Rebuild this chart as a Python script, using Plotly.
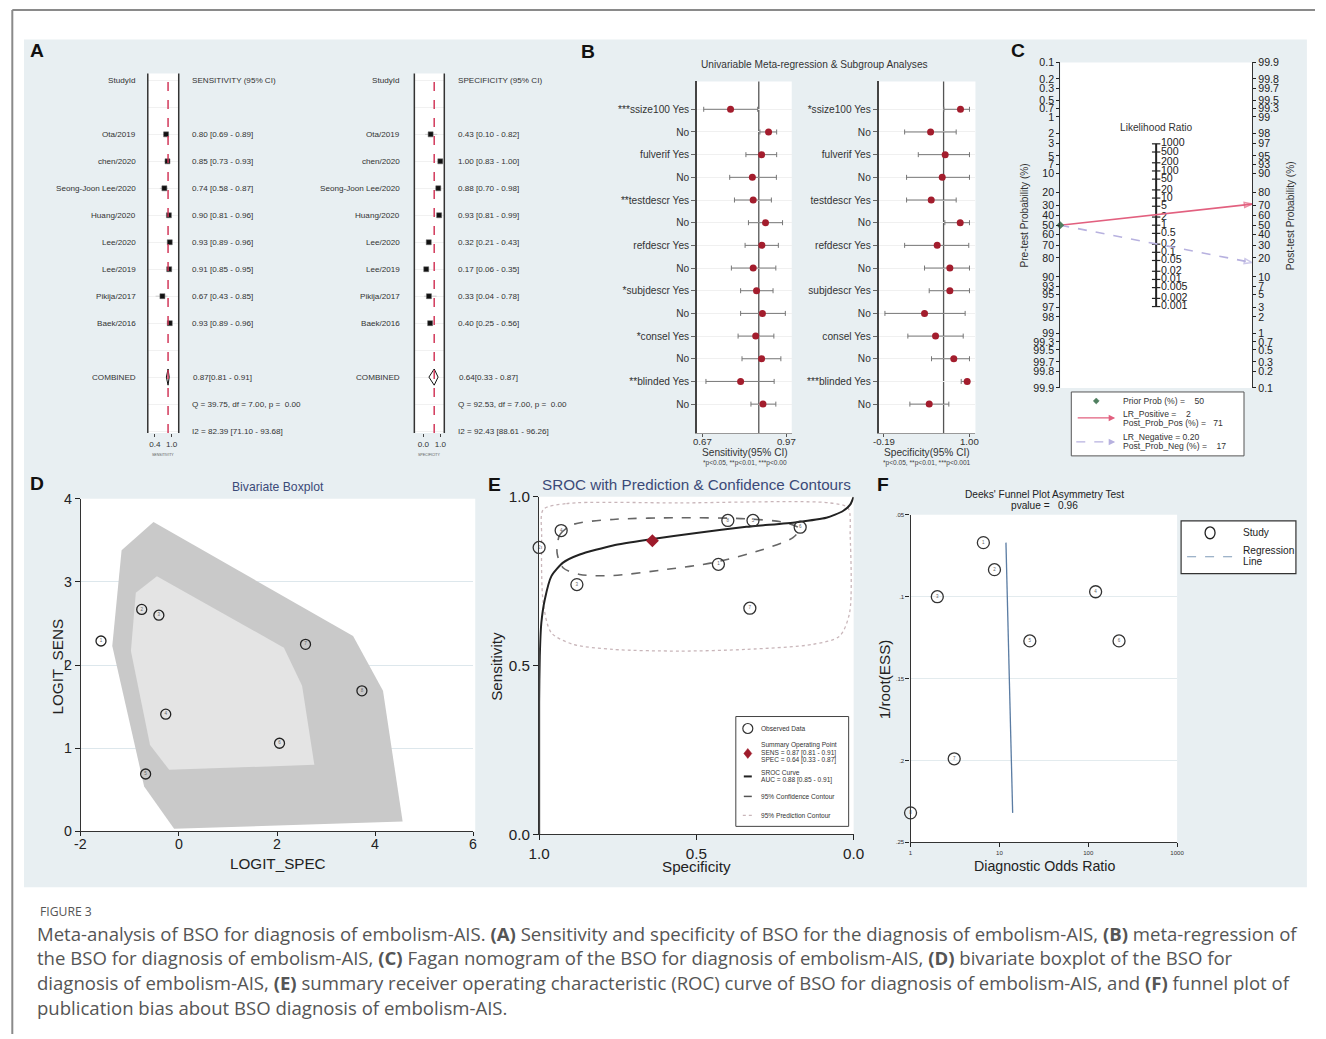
import math
import plotly.graph_objects as go

W, H = 1326, 1039
# the photographed page is shown slightly reduced and inset; place items so they land
# at the reference pixel positions
S, OX, OY = 0.985, 10.0, 8.5
FS = 1 / S
def PX(x): return (x - OX) / S / W
def PY(y): return 1 - (y - OY) / S / H
def fs(v): return v * FS

FONT = "Liberation Sans, Arial, Helvetica, sans-serif"
NB = "\u00a0"

# ================= DATA =================
# Panel A: forest plots
studies = ["Ota/2019", "chen/2020", "Seong-Joon Lee/2020", "Huang/2020",
           "Lee/2020", "Lee/2019", "Pikija/2017", "Baek/2016"]
sens = [0.80, 0.85, 0.74, 0.90, 0.93, 0.91, 0.67, 0.93]
sens_lo = [0.69, 0.73, 0.58, 0.81, 0.89, 0.85, 0.43, 0.89]
sens_hi = [0.89, 0.93, 0.87, 0.96, 0.96, 0.95, 0.85, 0.96]
spec = [0.43, 1.00, 0.88, 0.93, 0.32, 0.17, 0.33, 0.40]
spec_lo = [0.10, 0.83, 0.70, 0.81, 0.21, 0.06, 0.04, 0.25]
spec_hi = [0.82, 1.00, 0.98, 0.99, 0.43, 0.35, 0.78, 0.56]
pooled_sens = [0.87, 0.81, 0.91]
pooled_spec = [0.64, 0.33, 0.87]
sens_stats = ["Q = 39.75, df = 7.00, p =  0.00", "I2 = 82.39 [71.10 - 93.68]"]
spec_stats = ["Q = 92.53, df = 7.00, p =  0.00", "I2 = 92.43 [88.61 - 96.26]"]

# Panel B: meta-regression
mr_sens_labels = ["***ssize100 Yes", "No", "fulverif Yes", "No", "**testdescr Yes", "No",
                  "refdescr Yes", "No", "*subjdescr Yes", "No", "*consel Yes", "No",
                  "**blinded Yes", "No"]
mr_sens = [0.769, 0.905, 0.880, 0.847, 0.850, 0.894, 0.881, 0.850, 0.862, 0.883, 0.859, 0.880, 0.805, 0.885]
mr_sens_lo = [0.673, 0.874, 0.824, 0.766, 0.783, 0.833, 0.821, 0.772, 0.805, 0.805, 0.796, 0.810, 0.681, 0.842]
mr_sens_hi = [0.866, 0.934, 0.934, 0.933, 0.915, 0.955, 0.940, 0.931, 0.921, 0.965, 0.924, 0.949, 0.925, 0.931]
mr_spec_labels = ["*ssize100 Yes", "No", "fulverif Yes", "No", "testdescr Yes", "No",
                  "refdescr Yes", "No", "subjdescr Yes", "No", "consel Yes", "No",
                  "***blinded Yes", "No"]
mr_spec = [0.875, 0.459, 0.662, 0.621, 0.468, 0.871, 0.551, 0.727, 0.727, 0.375, 0.528, 0.782, 0.968, 0.440]
mr_spec_lo = [0.643, 0.098, 0.288, 0.125, 0.125, 0.657, 0.098, 0.375, 0.440, -0.176, 0.143, 0.472, 0.885, 0.171]
mr_spec_hi = [1.0, 0.815, 1.0, 1.0, 0.815, 1.0, 0.99, 1.0, 1.0, 0.94, 0.913, 1.0, 1.0, 0.713]

# Panel C: Fagan nomogram
prob_ticks = ["0.1", "0.2", "0.3", "0.5", "0.7", "1", "2", "3", "5", "7", "10", "20", "30", "40",
              "50", "60", "70", "80", "90", "93", "95", "97", "98", "99", "99.3", "99.5",
              "99.7", "99.8", "99.9"]
lr_ticks = ["1000", "500", "200", "100", "50", "20", "10", "5", "2", "1", "0.5", "0.2", "0.1",
            "0.05", "0.02", "0.01", "0.005", "0.002", "0.001"]
prior_prob = 50
lr_pos, post_pos = 2, 71
lr_neg, post_neg = 0.20, 17

# Panel D: bivariate boxplot
d_ticks_x = [-2, 0, 2, 4, 6]
d_spec = [-1.59, -0.76, -0.41, -0.27, -0.68, 2.05, 2.58, 3.73]
d_sens = [2.29, 2.67, 2.60, 1.41, 0.69, 1.06, 2.25, 1.69]
d_outer_x = [-1.17, -0.52, 3.55, 4.16, 4.56, -0.10, -0.71, -1.36]
d_outer_y = [3.38, 3.72, 2.35, 1.69, 0.12, 0.03, 0.54, 2.23]
d_inner_x = [-0.88, -0.45, 2.14, 2.51, 2.76, -0.20, -0.59, -0.98]
d_inner_y = [2.87, 3.07, 2.21, 1.75, 0.80, 0.74, 1.04, 2.17]

# Panel E: SROC
sroc_spec = [1.0, 1.0, 0.998, 0.993, 0.982, 0.961, 0.924, 0.871, 0.765, 0.645, 0.5, 0.341, 0.182, 0.087, 0.034, 0.011, 0.0]
sroc_sens = [0.0, 0.39, 0.528, 0.627, 0.696, 0.765, 0.805, 0.829, 0.856, 0.874, 0.893, 0.911, 0.925, 0.938, 0.958, 0.977, 1.0]
conf_spec = [0.943, 0.934, 0.892, 0.765, 0.553, 0.341, 0.214, 0.172, 0.193, 0.288, 0.447, 0.595, 0.765, 0.871, 0.924, 0.943]
conf_sens = [0.834, 0.888, 0.918, 0.933, 0.938, 0.935, 0.923, 0.905, 0.879, 0.844, 0.805, 0.785, 0.767, 0.770, 0.790, 0.834]
pred_spec = [0.987, 0.913, 0.553, 0.076, 0.018, 0.011, 0.013, 0.045, 0.129, 0.341, 0.553, 0.765, 0.892, 0.961, 0.987, 0.992, 0.987]
pred_sens = [0.962, 0.980, 0.982, 0.982, 0.967, 0.884, 0.656, 0.587, 0.563, 0.548, 0.543, 0.548, 0.563, 0.597, 0.686, 0.884, 0.962]

# Panel F: Deeks funnel
f_dor = [6.6, 8.8, 2.0, 121, 22, 222, 3.1, 1.0]
f_iress = [0.067, 0.0835, 0.100, 0.097, 0.127, 0.127, 0.199, 0.232]
f_reg_dor = [11.85, 14.1]
f_reg_iress = [0.067, 0.232]

# ================= HELPERS =================
traces, shapes, annotations = [], [], []

def T(**kw):
    traces.append(go.Scatter(showlegend=False, hoverinfo="skip", **kw))

def ann(text, x, y, size=10, color="#222", xanchor="center", yanchor="middle",
        xref="paper", yref="paper", angle=0, family=FONT):
    annotations.append(dict(text=text, x=x, y=y, xref=xref, yref=yref, showarrow=False,
                            xanchor=xanchor, yanchor=yanchor, textangle=angle,
                            font=dict(size=fs(size), color=color, family=family)))

def rect(x0, y0, x1, y1, fill, line=None, lw=0, layer="below"):
    shapes.append(dict(type="rect", xref="paper", yref="paper", x0=PX(x0), x1=PX(x1),
                       y0=PY(y1), y1=PY(y0), fillcolor=fill, layer=layer,
                       line=dict(color=line if line else fill, width=lw)))

def pline(x0, y0, x1, y1, color, width=1, dash="solid", layer="above"):
    shapes.append(dict(type="line", xref="paper", yref="paper", x0=PX(x0), x1=PX(x1),
                       y0=PY(y0), y1=PY(y1), layer=layer,
                       line=dict(color=color, width=width, dash=dash)))

def logit_pct(p):  # Fagan probability scale
    q = p / 100.0
    return math.log(q / (1 - q))

# ================= BACKGROUND =================
shapes.append(dict(type="line", xref="paper", yref="paper", x0=0.001, x1=1, y0=0.999, y1=0.999,
                   layer="below", line=dict(color="#8a8a8a", width=2)))
shapes.append(dict(type="line", xref="paper", yref="paper", x0=0.001, x1=0.001, y0=0.999,
                   y1=PY(1035), layer="below", line=dict(color="#8a8a8a", width=2)))
rect(23, 39, 1308, 888, "#e8eff2")
for (x0, y0, x1, y1) in [(147, 73, 178, 433), (414, 73, 444, 433), (697, 81, 792, 433),
                         (879, 81, 976, 433), (1061, 62, 1253, 388), (80, 499, 475, 832),
                         (539, 497, 854, 835), (911, 515, 1178, 843)]:
    rect(x0, y0, x1, y1, "white")

layout = dict(width=W, height=H, margin=dict(l=0, r=0, t=0, b=0), paper_bgcolor="white",
              plot_bgcolor="rgba(0,0,0,0)", showlegend=False,
              font=dict(family=FONT, color="#222"))

def base_axis(**kw):
    d = dict(showgrid=False, zeroline=False, showline=False, ticks="", showticklabels=False,
             fixedrange=True, autorange=False)
    d.update(kw)
    return d

# ================= PANEL A =================
rows = list(range(len(studies)))
COMB, QROW, IROW, HEAD = 9, 10, 11, -2

def forest(xid, xdom, xr, est, lo, hi, pooled, tickv, tickt, name_x, val_x,
           header, axis_label, stats):
    layout["xaxis" + xid] = base_axis(domain=[PX(xdom[0]), PX(xdom[1])], range=xr,
                                      anchor="y" + xid, tickvals=tickv, ticktext=tickt,
                                      ticks="outside", ticklen=3, tickcolor="#444",
                                      showticklabels=True, tickfont=dict(size=fs(8), color="#333"))
    layout["yaxis" + xid] = base_axis(domain=[PY(433), PY(73)], range=[11.07, -2.26],
                                      anchor="x" + xid, tickvals=list(range(-2, 12)),
                                      showgrid=True, gridcolor="#f1f1f1")
    T(x=est, y=rows, xaxis="x" + xid, yaxis="y" + xid, mode="markers",
      marker=dict(symbol="square", size=5, color="#111", line=dict(color="#666", width=0.5)),
      error_x=dict(type="data", symmetric=False,
                   array=[h - e for h, e in zip(hi, est)],
                   arrayminus=[e - l for e, l in zip(est, lo)],
                   color="#cdcdcd", thickness=1, width=0))
    e, l, h = pooled
    T(x=[l, e, h, e, l], y=[COMB, COMB - 0.3, COMB, COMB + 0.3, COMB],
      xaxis="x" + xid, yaxis="y" + xid, mode="lines", fill="toself", fillcolor="white",
      line=dict(color="#111", width=1))
    shapes.append(dict(type="line", xref="x" + xid, yref="paper", x0=e, x1=e,
                       y0=PY(433), y1=PY(73), layer="above",
                       line=dict(color="#d2385a", width=1.5, dash="dash")))
    pline(xdom[0], 73, xdom[0], 433, "#333", 1.5)
    pline(xdom[1], 73, xdom[1], 433, "#333", 1.5)
    yr = "y" + xid
    ann("StudyId", PX(name_x), HEAD, 8, "#333", xanchor="right", yref=yr)
    ann(header, PX(val_x), HEAD, 8, "#333", xanchor="left", yref=yr)
    for i, s in enumerate(studies):
        ann(s, PX(name_x), i, 8, "#333", xanchor="right", yref=yr)
        ann("%.2f [%.2f - %.2f]" % (est[i], lo[i], hi[i]), PX(val_x), i, 8, "#333",
            xanchor="left", yref=yr)
    ann("COMBINED", PX(name_x), COMB, 8, "#333", xanchor="right", yref=yr)
    ann("%.2f[%.2f - %.2f]" % (e, l, h), PX(val_x + 1), COMB, 8, "#333", xanchor="left", yref=yr)
    ann(stats[0].replace("  ", NB + NB), PX(val_x), QROW, 8, "#333", xanchor="left", yref=yr)
    ann(stats[1], PX(val_x), IROW, 8, "#333", xanchor="left", yref=yr)
    ann(axis_label, PX((xdom[0] + xdom[1]) / 2), PY(455), 3.5, "#555")

forest("", (147, 178), [0.153, 1.247], sens, sens_lo, sens_hi, pooled_sens,
       [0.4, 1.0], ["0.4", "1.0"], 137, 189, "SENSITIVITY (95% CI)", "SENSITIVITY", sens_stats)
forest("2", (414, 444), [-0.53, 1.235], spec, spec_lo, spec_hi, pooled_spec,
       [0.0, 1.0], ["0.0", "1.0"], 402, 456, "SPECIFICITY (95% CI)", "SPECIFICITY", spec_stats)
ann("<b>A</b>", PX(36), PY(50), 19, "#111")

# ================= PANEL B =================
mrows = list(range(len(mr_sens)))

def mreg(xid, xdom, xr, tickv, tickt, labels, est, lo, hi, ref, xtitle, foot, tx):
    layout["xaxis" + xid] = base_axis(domain=[PX(xdom[0]), PX(xdom[1])], range=xr,
                                      anchor="y" + xid, tickvals=tickv,
                                      ticks="outside", ticklen=3, tickcolor="#555",
                                      showline=True, linecolor="#999", linewidth=1)
    layout["yaxis" + xid] = base_axis(domain=[PY(433), PY(81)], range=[14.27, -1.23],
                                      anchor="x" + xid, tickvals=mrows, ticktext=labels,
                                      ticks="outside", ticklen=4, tickcolor="#666",
                                      showline=True, linecolor="#444", linewidth=1.5,
                                      showgrid=True, gridcolor="#f0f0f0",
                                      showticklabels=True, tickfont=dict(size=fs(10), color="#333"))
    shapes.append(dict(type="line", xref="x" + xid, yref="paper", x0=ref, x1=ref,
                       y0=PY(433), y1=PY(81), layer="below",
                       line=dict(color="#555", width=1.3)))
    T(x=est, y=mrows, xaxis="x" + xid, yaxis="y" + xid, mode="markers",
      marker=dict(size=7, color="#a31d2d"),
      error_x=dict(type="data", symmetric=False,
                   array=[h - e for h, e in zip(hi, est)],
                   arrayminus=[e - l for e, l in zip(est, lo)],
                   color="#777", thickness=1, width=2.5))
    for v, t in zip(tickv, tickt):
        ann(t, v, PY(442), 9.5, "#333", xref="x" + xid)
    ann(xtitle, PX(tx), PY(453), 10, "#333")
    ann(foot, PX(tx), PY(463), 6.5, "#444")

mreg("3", (697, 792), [0.6486, 0.9879], [0.67, 0.97], ["0.67", "0.97"], mr_sens_labels,
     mr_sens, mr_sens_lo, mr_sens_hi, pooled_sens[0], "Sensitivity(95% CI)",
     "*p<0.05, **p<0.01, ***p<0.00", 745)
mreg("4", (879, 976), [-0.264, 1.083], [-0.19, 1.00], ["-0.19", "1.00"], mr_spec_labels,
     mr_spec, mr_spec_lo, mr_spec_hi, pooled_spec[0], "Specificity(95% CI)",
     "*p<0.05, **p<0.01, ***p<0.001", 927)
ann("Univariable Meta-regression & Subgroup Analyses", PX(815), PY(64), 10, "#333")
ann("<b>B</b>", PX(588), PY(51), 19, "#111")

# ================= PANEL C =================
UMAX = 6.91
layout["xaxis5"] = base_axis(domain=[PX(1061), PX(1253)], range=[0, 1], anchor="y5")
layout["yaxis5"] = base_axis(domain=[PY(388), PY(62)], range=[-UMAX, UMAX], anchor="x5",
                             tickvals=[-logit_pct(float(t)) for t in prob_ticks],
                             ticktext=prob_ticks, ticks="outside", ticklen=3, tickcolor="#222",
                             showline=True, linecolor="#333", linewidth=1.2,
                             showticklabels=True, tickfont=dict(size=fs(10.5), color="#222"))
layout["yaxis6"] = base_axis(domain=[PY(388), PY(62)], range=[-UMAX, UMAX], anchor="x5",
                             overlaying="y5", side="right",
                             tickvals=[logit_pct(float(t)) for t in prob_ticks],
                             ticktext=prob_ticks, ticks="outside", ticklen=3, tickcolor="#222",
                             showline=True, linecolor="#333", linewidth=1.2,
                             showticklabels=True, tickfont=dict(size=fs(10.5), color="#222"))
T(x=[0.5], y=[0], xaxis="x5", yaxis="y6", mode="markers", marker=dict(opacity=0))
lr_u = [math.log(float(t)) / 2 for t in lr_ticks]
T(x=[0.5, 0.5], y=[lr_u[0], lr_u[-1]], xaxis="x5", yaxis="y5", mode="lines",
  line=dict(color="#222", width=2))
T(x=[0.5] * len(lr_u), y=lr_u, xaxis="x5", yaxis="y5", mode="markers+text",
  marker=dict(symbol="line-ew", size=6, line=dict(color="#222", width=1.2)),
  text=lr_ticks, textposition="middle right", textfont=dict(size=fs(10.5), color="#222"),
  cliponaxis=False)
T(x=[0, 1], y=[-logit_pct(prior_prob), logit_pct(post_pos)], xaxis="x5", yaxis="y5",
  mode="lines+markers", line=dict(color="#e2607f", width=1.6),
  marker=dict(symbol=["circle", "arrow-open"], size=[0, 8], angleref="previous",
              color="#e2607f", line=dict(color="#e2607f", width=1.5)), cliponaxis=False)
T(x=[0, 1], y=[-logit_pct(prior_prob), logit_pct(post_neg)], xaxis="x5", yaxis="y5",
  mode="lines+markers", line=dict(color="#b7b1df", width=1.6, dash="dash"),
  marker=dict(symbol=["circle", "arrow-open"], size=[0, 8], angleref="previous",
              color="#b7b1df", line=dict(color="#b7b1df", width=1.5)), cliponaxis=False)
T(x=[0], y=[-logit_pct(prior_prob)], xaxis="x5", yaxis="y5", mode="markers",
  marker=dict(symbol="diamond", size=6, color="#4f7f5f"), cliponaxis=False)
ann("Likelihood Ratio", PX(1157), PY(127), 10, "#333")
ann("Pre-test Probability (%)", PX(1025), PY(215), 10, "#333", angle=-90)
ann("Post-test Probability (%)", PX(1291), PY(215), 10, "#333", angle=-90)
ann("<b>C</b>", PX(1019), PY(50), 19, "#111")
# legend C
rect(1072, 392, 1245, 456, "white", "#555", 1, layer="above")
shapes.append(dict(type="path", xref="paper", yref="paper", layer="above",
                   path="M %f,%f L %f,%f L %f,%f L %f,%f Z" % (
                       PX(1097), PY(398), PX(1100), PY(401), PX(1097), PY(404), PX(1094), PY(401)),
                   fillcolor="#4f7f5f", line=dict(color="#4f7f5f", width=0.5)))
ann("Prior Prob (%) =" + NB * 4 + "%d" % prior_prob, PX(1122), PY(401), 8.5, "#333", xanchor="left")
annotations.append(dict(text="", x=PX(1116), y=PY(418), xref="paper", yref="paper",
                        showarrow=True, ax=-39, ay=0, arrowhead=2, arrowsize=1,
                        arrowwidth=1.3, arrowcolor="#e2607f"))
ann("LR_Positive =" + NB * 4 + "%d" % lr_pos, PX(1122), PY(414), 8.5, "#333", xanchor="left")
ann("Post_Prob_Pos (%) =" + NB * 3 + "%d" % post_pos, PX(1122), PY(423), 8.5, "#333", xanchor="left")
pline(1077, 442, 1111, 442, "#b7b1df", 1.3, dash="dash")
annotations.append(dict(text="", x=PX(1116), y=PY(442), xref="paper", yref="paper",
                        showarrow=True, ax=-6, ay=0, arrowhead=2, arrowsize=1,
                        arrowwidth=1.3, arrowcolor="#b7b1df"))
ann("LR_Negative = %.2f" % lr_neg, PX(1122), PY(437), 8.5, "#333", xanchor="left")
ann("Post_Prob_Neg (%) =" + NB * 4 + "%d" % post_neg, PX(1122), PY(446), 8.5, "#333", xanchor="left")

# ================= PANEL D =================
layout["xaxis7"] = base_axis(domain=[PX(80), PX(473)], range=[-2, 6], anchor="y7",
                             tickvals=d_ticks_x, ticks="outside", ticklen=4,
                             tickcolor="#222", showline=True, linecolor="#333", linewidth=1.2)
layout["yaxis7"] = base_axis(domain=[PY(832), PY(499)], range=[0, 4], anchor="x7",
                             tickvals=[0, 1, 2, 3, 4], ticks="outside", ticklen=5,
                             tickcolor="#222", showline=True, linecolor="#333", linewidth=1.2,
                             showgrid=True, gridcolor="#dde7ec", gridwidth=1.3,
                             showticklabels=True, tickfont=dict(size=fs(14), color="#222"))
for v in d_ticks_x:
    ann(str(v), v, PY(845), 14, "#222", xref="x7")
T(x=d_outer_x + [d_outer_x[0]], y=d_outer_y + [d_outer_y[0]], xaxis="x7", yaxis="y7",
  mode="lines", fill="toself", fillcolor="#c9c9c9", line=dict(width=0, color="#c9c9c9"))
T(x=d_inner_x + [d_inner_x[0]], y=d_inner_y + [d_inner_y[0]], xaxis="x7", yaxis="y7",
  mode="lines", fill="toself", fillcolor="#e4e4e4", line=dict(width=0, color="#e4e4e4"))
T(x=d_spec, y=d_sens, xaxis="x7", yaxis="y7", mode="markers+text",
  marker=dict(symbol="circle-open", size=10, color="#222", line=dict(width=1.3)),
  text=[str(i + 1) for i in range(len(d_spec))], textposition="middle center",
  textfont=dict(size=4.5, color="#666"))
ann("Bivariate Boxplot", PX(277), PY(487), 12, "#3b4a78")
ann("LOGIT_SPEC", PX(277), PY(864), 15, "#222")
ann("LOGIT_SENS", PX(57), PY(667), 15, "#222", angle=-90)
ann("<b>D</b>", PX(36), PY(484), 19, "#111")

# ================= PANEL E =================
layout["xaxis8"] = base_axis(domain=[PX(539), PX(854)], range=[1, 0], anchor="y8",
                             tickvals=[1, 0.5, 0], ticktext=["1.0", "0.5", "0.0"],
                             ticks="outside", ticklen=5, tickcolor="#222", showline=True,
                             linecolor="#333", linewidth=1.2, showticklabels=True,
                             tickfont=dict(size=fs(15), color="#222"))
layout["yaxis8"] = base_axis(domain=[PY(835), PY(497)], range=[0, 1], anchor="x8",
                             tickvals=[0, 0.5, 1], ticktext=["0.0", "0.5", "1.0"],
                             ticks="outside", ticklen=5, tickcolor="#222", showline=True,
                             linecolor="#333", linewidth=1.2, showticklabels=True,
                             tickfont=dict(size=fs(15), color="#222"))
T(x=pred_spec, y=pred_sens, xaxis="x8", yaxis="y8", mode="lines",
  line=dict(color="#c9b6ba", width=1.3, dash="dot", shape="spline", smoothing=0.8))
T(x=conf_spec, y=conf_sens, xaxis="x8", yaxis="y8", mode="lines",
  line=dict(color="#666", width=1.6, dash="dash", shape="spline", smoothing=0.8))
T(x=sroc_spec, y=sroc_sens, xaxis="x8", yaxis="y8", mode="lines",
  line=dict(color="#222", width=2, shape="spline", smoothing=0.6))
T(x=spec, y=sens, xaxis="x8", yaxis="y8", mode="markers+text", cliponaxis=False,
  marker=dict(symbol="circle-open", size=12, color="#333", line=dict(width=1.3)),
  text=[str(i + 1) for i in range(len(spec))], textposition="middle center",
  textfont=dict(size=4.5, color="#666"))
T(x=[pooled_spec[0]], y=[pooled_sens[0]], xaxis="x8", yaxis="y8", mode="markers",
  marker=dict(symbol="diamond", size=10, color="#9e1b2b"))
ann("SROC with Prediction & Confidence Contours", PX(697), PY(485), 15, "#3b4a78")
ann("Specificity", PX(697), PY(867), 15, "#222")
ann("Sensitivity", PX(496), PY(667), 15, "#222", angle=-90)
ann("<b>E</b>", PX(494), PY(485), 19, "#111")
# legend E
rect(736, 717, 849, 827, "white", "#444", 1, layer="above")
shapes.append(dict(type="circle", xref="paper", yref="paper", layer="above",
                   x0=PX(743), x1=PX(753), y0=PY(734), y1=PY(724),
                   line=dict(color="#333", width=1.2)))
ann("Observed Data", PX(759), PY(729), 6.5, "#333", xanchor="left")
shapes.append(dict(type="path", xref="paper", yref="paper", layer="above",
                   path="M %f,%f L %f,%f L %f,%f L %f,%f Z" % (
                       PX(748), PY(749), PX(752), PY(754), PX(748), PY(759), PX(744), PY(754)),
                   fillcolor="#9e1b2b", line=dict(color="#9e1b2b", width=0.5)))
ann("Summary Operating Point", PX(759), PY(746), 6.5, "#333", xanchor="left")
ann("SENS = %.2f [%.2f - %.2f]" % tuple(pooled_sens), PX(759), PY(753.5), 6.5, "#333", xanchor="left")
ann("SPEC = %.2f [%.2f - %.2f]" % tuple(pooled_spec), PX(759), PY(761), 6.5, "#333", xanchor="left")
pline(744, 777, 752, 777, "#222", 2)
ann("SROC Curve", PX(759), PY(773), 6.5, "#333", xanchor="left")
ann("AUC = 0.88 [0.85 - 0.91]", PX(759), PY(781), 6.5, "#333", xanchor="left")
pline(744, 797, 752, 797, "#555", 1.5)
ann("95% Confidence Contour", PX(759), PY(797), 6.5, "#333", xanchor="left")
pline(743, 816, 754, 816, "#c9b6ba", 1.3, dash="dot")
ann("95% Prediction Contour", PX(759), PY(816), 6.5, "#333", xanchor="left")

# ================= PANEL F =================
layout["xaxis9"] = base_axis(type="log", domain=[PX(911), PX(1178)], range=[0, 3], anchor="y9",
                             tickvals=[1, 10, 100, 1000], ticktext=["1", "10", "100", "1000"],
                             ticks="outside", ticklen=4, tickcolor="#222", showline=True,
                             linecolor="#333", linewidth=1.2, showticklabels=True,
                             tickfont=dict(size=fs(6), color="#333"))
layout["yaxis9"] = base_axis(domain=[PY(843), PY(515)], range=[0.25, 0.05], anchor="x9",
                             tickvals=[0.05, 0.1, 0.15, 0.2, 0.25],
                             ticktext=[".05", ".1", ".15", ".2", ".25"],
                             ticks="outside", ticklen=4, tickcolor="#222", showline=True,
                             linecolor="#333", linewidth=1.2, showgrid=True,
                             gridcolor="#e3ebee", gridwidth=1.2, showticklabels=True,
                             tickfont=dict(size=fs(6), color="#333"))
T(x=f_reg_dor, y=f_reg_iress, xaxis="x9", yaxis="y9", mode="lines",
  line=dict(color="#5a7ca3", width=1.3))
T(x=f_dor, y=f_iress, xaxis="x9", yaxis="y9", mode="markers+text", cliponaxis=False,
  marker=dict(symbol="circle-open", size=12, color="#333", line=dict(width=1.3)),
  text=[str(i + 1) for i in range(len(f_dor))], textposition="middle center",
  textfont=dict(size=4.5, color="#666"))
ann("Deeks' Funnel Plot Asymmetry Test", PX(1045), PY(495), 10, "#222")
ann("pvalue =" + NB * 3 + "0.96", PX(1045), PY(506), 10, "#222")
ann("Diagnostic Odds Ratio", PX(1045), PY(867), 14, "#222")
ann("1/root(ESS)", PX(885), PY(680), 15, "#222", angle=-90)
ann("<b>F</b>", PX(883), PY(485), 19, "#111")
# legend F
rect(1182, 521, 1297, 574, "white", "#333", 1.2, layer="above")
shapes.append(dict(type="circle", xref="paper", yref="paper", layer="above",
                   x0=PX(1206), x1=PX(1216), y0=PY(539), y1=PY(527),
                   line=dict(color="#222", width=1.3)))
ann("Study", PX(1242), PY(533), 10, "#222", xanchor="left")
pline(1188, 557, 1235, 557, "#7f9bb8", 1.2, dash="dash")
ann("Regression", PX(1242), PY(551), 10, "#222", xanchor="left")
ann("Line", PX(1242), PY(562), 10, "#222", xanchor="left")

# ================= CAPTION =================
CAP = "Open Sans, Lato, sans-serif"
ann("FIGURE 3", PX(37), PY(912), 12, "#555", xanchor="left", family=CAP)
cap_lines = [
    "Meta-analysis of BSO for diagnosis of embolism-AIS. <b>(A)</b> Sensitivity and specificity of BSO for the diagnosis of embolism-AIS, <b>(B)</b> meta-regression of",
    "the BSO for diagnosis of embolism-AIS, <b>(C)</b> Fagan nomogram of the BSO for diagnosis of embolism-AIS, <b>(D)</b> bivariate boxplot of the BSO for",
    "diagnosis of embolism-AIS, <b>(E)</b> summary receiver operating characteristic (ROC) curve of BSO for diagnosis of embolism-AIS, and <b>(F)</b> funnel plot of",
    "publication bias about BSO diagnosis of embolism-AIS.",
]
for i, line in enumerate(cap_lines):
    ann(line, PX(34), PY(934 + 24.7 * i), 18.3, "#555", xanchor="left", family=CAP)

layout["shapes"] = shapes
layout["annotations"] = annotations
fig = go.Figure(data=traces)
fig.update_layout(**layout)
fig.write_html("out.html", config={"displayModeBar": False},
               post_script="document.body.style.margin='0';document.body.style.padding='0';"
                           "document.documentElement.style.overflow='hidden';")
